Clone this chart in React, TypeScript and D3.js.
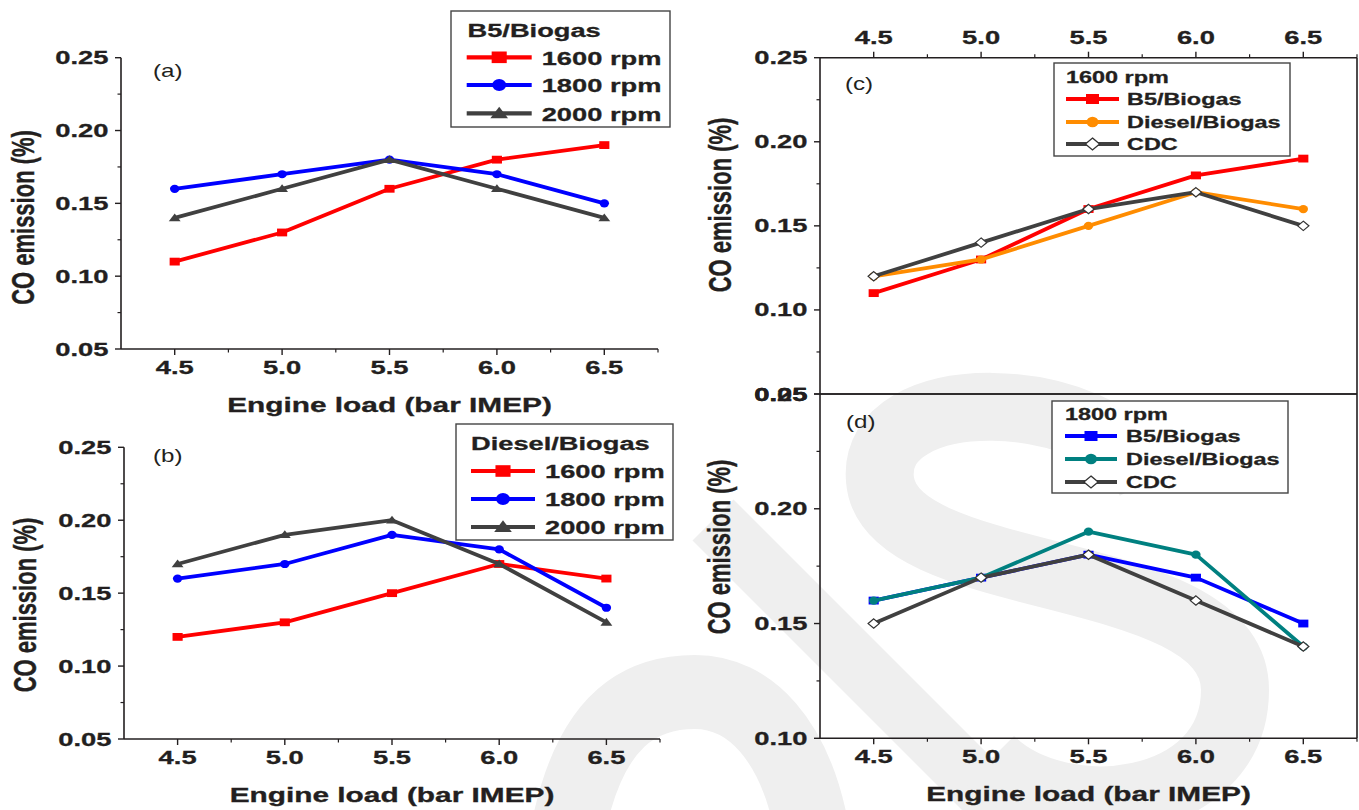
import React from "react";
import * as d3 from "d3";

// ---------- data ----------
const loads = [4.5, 5.0, 5.5, 6.0, 6.5];
const xTickLabels = ["4.5", "5.0", "5.5", "6.0", "6.5"];

// (a) B5/Biogas
const aRpm1600 = [0.11, 0.13, 0.16, 0.18, 0.19];
const aRpm1800 = [0.16, 0.17, 0.18, 0.17, 0.15];
const aRpm2000 = [0.14, 0.16, 0.18, 0.16, 0.14];
// (b) Diesel/Biogas
const bRpm1600 = [0.12, 0.13, 0.15, 0.17, 0.16];
const bRpm1800 = [0.16, 0.17, 0.19, 0.18, 0.14];
const bRpm2000 = [0.17, 0.19, 0.2, 0.17, 0.13];
// (c) 1600 rpm
const cB5 = [0.11, 0.13, 0.16, 0.18, 0.19];
const cDiesel = [0.12, 0.13, 0.15, 0.17, 0.16];
const cCDC = [0.12, 0.14, 0.16, 0.17, 0.15];
// (d) 1800 rpm
const dB5 = [0.16, 0.17, 0.18, 0.17, 0.15];
const dDiesel = [0.16, 0.17, 0.19, 0.18, 0.14];
const dCDC = [0.15, 0.17, 0.18, 0.16, 0.14];

const RED = "#ff0000";
const BLUE = "#0000ff";
const GREY = "#404040";
const ORANGE = "#ff8c00";
const TEAL = "#008080";
const INK = "#231f20";
const FONT = "'Liberation Sans', Arial, sans-serif";

type Shape = "square" | "circle" | "triangle" | "diamond";

function T({ x, y, anchor = "start", size = 19, weight = "bold", rotate = false, sx = 1.44, children }: any) {
  const tr = rotate
    ? `translate(${x},${y}) rotate(-90) scale(1,${sx})`
    : `translate(${x},${y}) scale(${sx},1)`;
  return (
    <text
      transform={tr}
      textAnchor={anchor}
      fontSize={size}
      fontWeight={weight}
      fontFamily={FONT}
      fill={INK}
      stroke={weight === "bold" ? INK : "none"}
      strokeWidth={weight === "bold" ? 0.3 : 0}
    >
      {children}
    </text>
  );
}

function Marker({ x, y, shape, color, r }: { x: number; y: number; shape: Shape; color: string; r: number }) {
  if (shape === "square")
    return <rect transform={`translate(${x},${y}) scale(1.3,1)`} x={-r} y={-r} width={2 * r} height={2 * r} fill={color} />;
  if (shape === "circle") return <circle transform={`translate(${x},${y}) scale(1.15,1)`} r={r * 1.05} fill={color} />;
  if (shape === "triangle") {
    const p = `M0,${-r * 1.15} L${r * 1.05},${r * 0.85} L${-r * 1.05},${r * 0.85} Z`;
    return <path transform={`translate(${x},${y}) scale(1.45,1)`} d={p} fill={color} />;
  }
  const p = `M0,${-r * 1.2} L${r * 1.2},0 L0,${r * 1.2} L${-r * 1.2},0 Z`;
  return <path transform={`translate(${x},${y}) scale(1.2,1)`} d={p} fill="#ffffff" stroke="#333" strokeWidth={1.1} />;
}

type Series = { values: number[]; color: string; shape: Shape; name: string };

function Panel({
  x0, x1, yTop, yBot, yDomain, series, label, labelPos, legend, topAxis = false, frame = false,
  xTitle = true, yTitleCenter, yTitleX, yTickVals,
}: any) {
  const x = d3.scaleLinear().domain([4.25, 6.75]).range([x0, x1]);
  const y = d3.scaleLinear().domain(yDomain).range([yBot, yTop]);
  const majorY: number[] = yTickVals;
  const minorY: number[] = majorY.slice(0, -1).map((v: number, i: number) => (v + majorY[i + 1]) / 2);
  const minorX = [4.75, 5.25, 5.75, 6.25, 6.75];
  const line = d3.line<number>().x((_, i) => x(loads[i])).y((v) => y(v));
  const axisY = topAxis ? yTop : yBot;
  const dir = topAxis ? -1 : 1;
  return (
    <g>
      {/* axes */}
      <line x1={x0} x2={x0} y1={yTop} y2={yBot} stroke={INK} strokeWidth={1.6} />
      <line x1={x0} x2={x1} y1={axisY} y2={axisY} stroke={INK} strokeWidth={1.6} />
      {frame && (
        <g>
          <line x1={x1} x2={x1} y1={yTop} y2={yBot} stroke={INK} strokeWidth={1.6} />
          <line x1={x0} x2={x1} y1={topAxis ? yBot : yTop} y2={topAxis ? yBot : yTop} stroke={INK} strokeWidth={1.6} />
        </g>
      )}
      {loads.map((v, i) => (
        <g key={"xt" + i}>
          <line x1={x(v)} x2={x(v)} y1={axisY} y2={axisY + dir * 6} stroke={INK} strokeWidth={1.4} />
          <T x={x(v)} y={topAxis ? axisY - 13.5 : axisY + 24.9} anchor="middle">{xTickLabels[i]}</T>
        </g>
      ))}
      {minorX.map((v, i) => (
        <line key={"xm" + i} x1={x(v)} x2={x(v)} y1={axisY} y2={axisY + dir * 3.5} stroke={INK} strokeWidth={1.2} />
      ))}
      {majorY.map((v: number, i: number) => (
        <g key={"yt" + i}>
          <line x1={x0} x2={x0 - 6} y1={y(v)} y2={y(v)} stroke={INK} strokeWidth={1.4} />
          <T x={x0 - 12.5} y={y(v) + 6.5} anchor="end">{v.toFixed(2)}</T>
        </g>
      ))}
      {minorY.map((v: number, i: number) => (
        <line key={"ym" + i} x1={x0} x2={x0 - 3.5} y1={y(v)} y2={y(v)} stroke={INK} strokeWidth={1.2} />
      ))}
      {/* titles */}
      {xTitle && (
        <T x={(x0 + x1) / 2} y={yBot + 62.5} anchor="middle" size={19.5} sx={1.53}>Engine load (bar IMEP)</T>
      )}
      <T x={yTitleX} y={yTitleCenter} anchor="middle" rotate size={22} sx={1.45}>CO emission (%)</T>
      <T x={labelPos[0]} y={labelPos[1]} size={17.5} sx={1.38} weight="normal">{label}</T>
      {/* series */}
      {series.map((s: Series, k: number) => (
        <g key={"s" + k}>
          <path d={line(s.values) || ""} fill="none" stroke={s.color} strokeWidth={3.8} strokeLinejoin="round" />
          {s.values.map((v, i) => (
            <Marker key={i} x={x(loads[i])} y={y(v)} shape={s.shape} color={s.color} r={3.9} />
          ))}
        </g>
      ))}
      {/* legend */}
      <g>
        <rect x={legend.x} y={legend.y} width={legend.w} height={legend.h} fill="#fff" stroke="#444" strokeWidth={1.4} />
        <T x={legend.titleX} y={legend.titleY} size={legend.size} sx={legend.sx}>{legend.title}</T>
        {series.map((s: Series, k: number) => {
          const cy = legend.rows[k];
          return (
            <g key={"l" + k}>
              <line x1={legend.lx0} x2={legend.lx1} y1={cy} y2={cy} stroke={s.color} strokeWidth={legend.lw} />
              <Marker x={(legend.lx0 + legend.lx1) / 2} y={cy} shape={s.shape} color={s.color} r={legend.mr} />
              <T x={legend.tx} y={cy + legend.size * 0.385} size={legend.size} sx={legend.sx}>{s.name}</T>
            </g>
          );
        })}
      </g>
    </g>
  );
}

function Watermark() {
  const c = "#efefef";
  return (
    <g fill="none" stroke={c} strokeLinecap="butt">
      <path d="M 568 830 C 590 720, 640 692, 695 692 C 750 692, 795 740, 812 830" strokeWidth={74} />
      <path d="M 713 520 L 1023 830" strokeWidth={58} />
      <path d="M 1150 480 C 1100 385, 870 380, 880 480 C 890 590, 1235 560, 1235 690 C 1235 810, 1060 830, 990 760" strokeWidth={68} />
    </g>
  );
}

export default function App() {
  const yTicks5 = [0.05, 0.1, 0.15, 0.2, 0.25];
  const yTicksD = [0.1, 0.15, 0.2, 0.25];
  return (
    <svg width={1359} height={810} style={{ position: "absolute", left: 0, top: 0, background: "#fff" }}>
      <rect x={0} y={0} width={1359} height={810} fill="#fff" />
      <Watermark />
      <Panel
        x0={121} x1={658} yTop={57.7} yBot={349} yDomain={[0.05, 0.25]} yTickVals={yTicks5}
        label="(a)" labelPos={[153, 76.5]} yTitleX={34} yTitleCenter={217.5}
        series={[
          { values: aRpm1600, color: RED, shape: "square", name: "1600 rpm" },
          { values: aRpm1800, color: BLUE, shape: "circle", name: "1800 rpm" },
          { values: aRpm2000, color: GREY, shape: "triangle", name: "2000 rpm" },
        ]}
        legend={{ x: 451, y: 11, w: 219, h: 116, title: "B5/Biogas", titleX: 467.5, titleY: 36.7, rows: [57.3, 85, 113.3], lx0: 466.7, lx1: 531.7, tx: 541.7, size: 18.8, sx: 1.45, lw: 4.2, mr: 5.8 }}
      />
      <Panel
        x0={124} x1={660} yTop={447.3} yBot={739} yDomain={[0.05, 0.25]} yTickVals={yTicks5}
        label="(b)" labelPos={[153, 462]} yTitleX={36} yTitleCenter={605}
        series={[
          { values: bRpm1600, color: RED, shape: "square", name: "1600 rpm" },
          { values: bRpm1800, color: BLUE, shape: "circle", name: "1800 rpm" },
          { values: bRpm2000, color: GREY, shape: "triangle", name: "2000 rpm" },
        ]}
        legend={{ x: 456, y: 424, w: 217, h: 116, title: "Diesel/Biogas", titleX: 471, titleY: 450, rows: [471, 499, 527], lx0: 471, lx1: 535, tx: 545, size: 18.8, sx: 1.45, lw: 4.2, mr: 5.8 }}
      />
      <Panel
        x0={820} x1={1357} yTop={57.7} yBot={394} yDomain={[0.05, 0.25]} yTickVals={yTicks5}
        topAxis frame xTitle={false}
        label="(c)" labelPos={[845, 89.5]} yTitleX={731} yTitleCenter={205}
        series={[
          { values: cB5, color: RED, shape: "square", name: "B5/Biogas" },
          { values: cDiesel, color: ORANGE, shape: "circle", name: "Diesel/Biogas" },
          { values: cCDC, color: GREY, shape: "diamond", name: "CDC" },
        ]}
        legend={{ x: 1054, y: 63, w: 236, h: 93, title: "1600 rpm", titleX: 1066, titleY: 83, rows: [99, 122, 144], lx0: 1066, lx1: 1119, tx: 1127, size: 16.5, sx: 1.42, lw: 4, mr: 5 }}
      />
      <Panel
        x0={820} x1={1357} yTop={394} yBot={738.3} yDomain={[0.1, 0.25]} yTickVals={yTicksD}
        frame
        label="(d)" labelPos={[846, 427.5]} yTitleX={730} yTitleCenter={547}
        series={[
          { values: dB5, color: BLUE, shape: "square", name: "B5/Biogas" },
          { values: dDiesel, color: TEAL, shape: "circle", name: "Diesel/Biogas" },
          { values: dCDC, color: GREY, shape: "diamond", name: "CDC" },
        ]}
        legend={{ x: 1052, y: 401, w: 236, h: 92, title: "1800 rpm", titleX: 1065, titleY: 420, rows: [436, 459, 482], lx0: 1065, lx1: 1117, tx: 1126, size: 16.5, sx: 1.42, lw: 4, mr: 5 }}
      />
    </svg>
  );
}
